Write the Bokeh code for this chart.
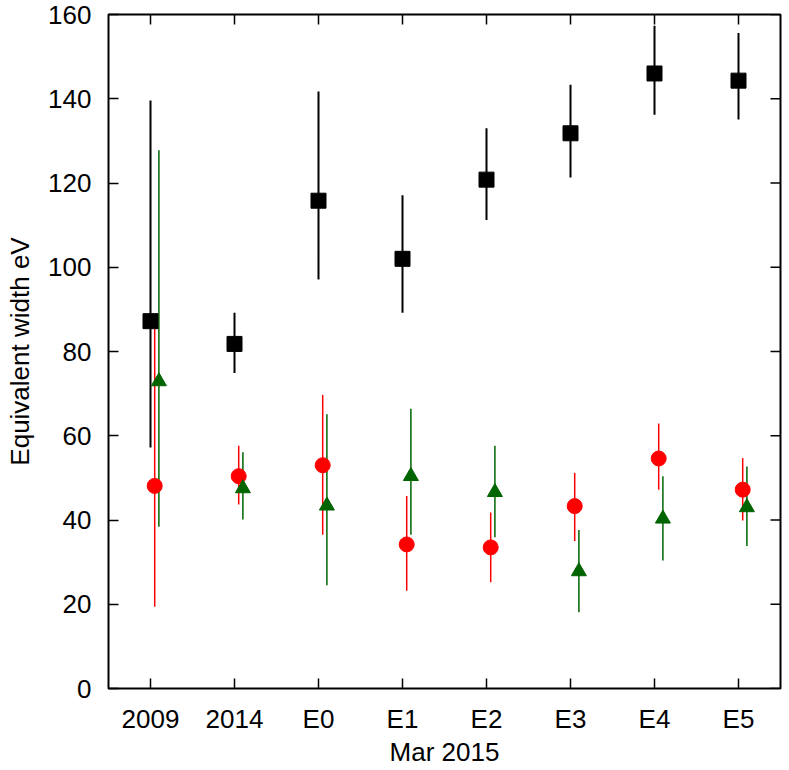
from bokeh.plotting import figure
from bokeh.models import (ColumnDataSource, Range1d, FactorRange, LinearAxis,
                          CategoricalAxis, FixedTicker)
from bokeh.transform import dodge
from bokeh.embed import file_html
from bokeh.resources import INLINE

cats = ["2009", "2014", "E0", "E1", "E2", "E3", "E4", "E5"]

black = [87.2, 81.8, 115.8, 102.0, 120.8, 131.8, 146.0, 144.3]
black_lo = [57.2, 74.9, 97.1, 89.2, 111.2, 121.3, 136.2, 135.1]
black_hi = [139.6, 89.2, 141.7, 117.1, 133.0, 143.3, 157.3, 155.6]

red = [48.1, 50.4, 53.0, 34.2, 33.5, 43.3, 54.6, 47.2]
red_lo = [19.4, 43.7, 36.5, 23.2, 25.2, 35.0, 47.2, 39.9]
red_hi = [86.0, 57.6, 69.7, 45.7, 41.8, 51.2, 62.9, 54.7]

green = [72.9, 47.5, 43.4, 50.4, 46.6, 27.8, 40.3, 43.0]
green_lo = [38.4, 40.1, 24.5, 36.5, 35.9, 18.1, 30.4, 33.8]
green_hi = [127.8, 56.1, 65.1, 66.4, 57.6, 37.6, 50.4, 52.7]

y_ticks = [0, 20, 40, 60, 80, 100, 120, 140, 160]
y_min, y_max = 0, 160

FONT = "Liberation Sans"
FS = "26px"

p = figure(x_range=FactorRange(factors=cats), y_range=Range1d(y_min, y_max),
           width=788, height=769, output_backend="svg", toolbar_location=None,
           x_axis_location=None, y_axis_location=None,
           min_border_left=108, min_border_right=8, min_border_top=14,
           min_border_bottom=80)
p.grid.visible = False
p.outline_line_color = "black"
p.outline_line_width = 2
p.outline_line_alpha = 1.0
p.background_fill_color = "white"
p.border_fill_color = "white"

def style_axis(ax):
    ax.axis_line_color = None
    ax.major_tick_in = 10
    ax.major_tick_out = 0
    ax.major_tick_line_color = "black"
    ax.major_tick_line_width = 1.5
    ax.minor_tick_line_color = None
    ax.major_label_text_font = FONT
    ax.major_label_text_font_size = FS
    ax.major_label_text_color = "black"
    ax.axis_label_text_font = FONT
    ax.axis_label_text_font_size = FS
    ax.axis_label_text_font_style = "normal"
    ax.axis_label_text_color = "black"

left = LinearAxis(ticker=FixedTicker(ticks=y_ticks), axis_label="Equivalent width eV")
style_axis(left)
left.major_label_standoff = 17
left.axis_label_standoff = 10
bottom = CategoricalAxis(axis_label="Mar 2015")
style_axis(bottom)
bottom.major_label_standoff = 15
bottom.axis_label_standoff = 0

p.add_layout(left, "left")
p.add_layout(bottom, "below")

# mirrored inward ticks on the top and right edges
p.ray(x=cats, y=[y_max] * len(cats), length=10, length_units="screen",
      angle=-90, angle_units="deg", line_color="black", line_width=1.5)
p.ray(x=dodge("edge", 0.5, range=p.x_range), y="yt",
      source=ColumnDataSource(dict(edge=[cats[-1]] * len(y_ticks), yt=y_ticks)),
      length=10, length_units="screen", angle=180, angle_units="deg",
      line_color="black", line_width=1.5)

src = ColumnDataSource(dict(cat=cats, black=black, black_lo=black_lo, black_hi=black_hi,
                            red=red, red_lo=red_lo, red_hi=red_hi,
                            green=green, green_lo=green_lo, green_hi=green_hi))

xb = dodge("cat", 0.0, range=p.x_range)
xr = dodge("cat", 0.05, range=p.x_range)
xg = dodge("cat", 0.1, range=p.x_range)

p.segment(x0=xb, x1=xb, y0="black_lo", y1="black_hi", source=src,
          line_color="black", line_width=2)
p.segment(x0=xr, x1=xr, y0="red_lo", y1="red_hi", source=src,
          line_color="#ff0000", line_width=1.5)
p.segment(x0=xg, x1=xg, y0="green_lo", y1="green_hi", source=src,
          line_color="#006400", line_width=1.5)

p.scatter(x=xb, y="black", source=src, marker="square", size=15,
          fill_color="black", line_color="black")
p.scatter(x=xr, y="red", source=src, marker="circle", size=15,
          fill_color="#ff0000", line_color="#ff0000")
p.scatter(x=xg, y="green", source=src, marker="triangle", size=15,
          fill_color="#006400", line_color="#006400")

open("out.html", "w").write(file_html(p, INLINE))
